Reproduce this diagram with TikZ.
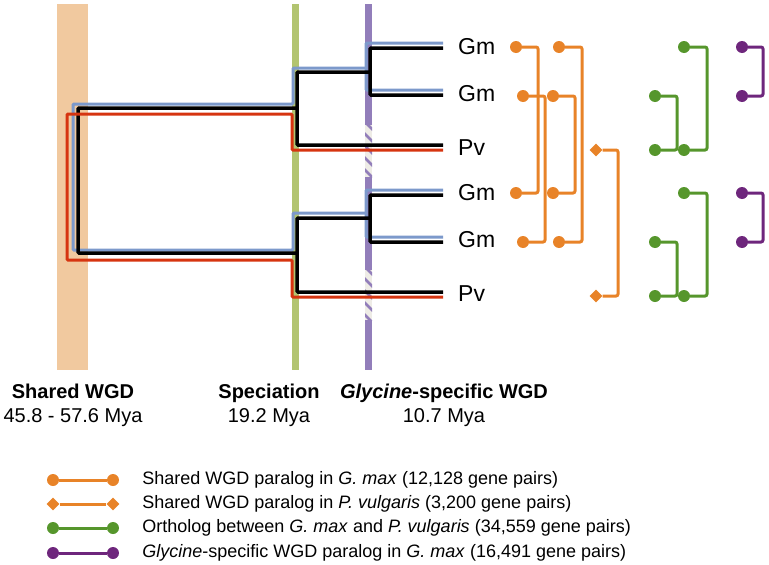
\documentclass[tikz,border=0pt]{standalone}
\usepackage{fontspec}
\setmainfont{Liberation Sans}
\usepackage{tikz}
\usetikzlibrary{shapes.geometric,calc,positioning}
\usepackage{xcolor}
\definecolor{wgdpeach}{RGB}{241,201,159}
\definecolor{specgreen}{RGB}{178,196,112}
\definecolor{glypurple}{RGB}{146,126,186}
\definecolor{hatchgray}{RGB}{238,236,230}
\definecolor{gmblue}{RGB}{124,153,203}
\definecolor{pvred}{RGB}{214,52,16}
\definecolor{pairorange}{RGB}{232,131,40}
\definecolor{orthgreen}{RGB}{86,150,44}
\definecolor{glyviolet}{RGB}{110,38,124}

\begin{document}
\begin{tikzpicture}[x=1pt,y=-1pt,
	  every node/.style={align=center,text=black,inner sep=0pt},
	  leaf/.style={anchor=west,font=\fontsize{23}{26}\selectfont},
	  stage/.style={font=\fontsize{20}{24}\selectfont},
	  legtext/.style={anchor=west,font=\fontsize{18}{20}\selectfont},
	  gmline/.style={draw=gmblue,line width=3pt,rounded corners=1pt},
	  treeline/.style={draw=black,line width=3.5pt,rounded corners=1pt},
	  pvline/.style={draw=pvred,line width=3pt,rounded corners=1pt},
	  dot/.style={circle,fill=#1,minimum size=12pt},
	  tip/.style={diamond,fill=#1,minimum size=13pt},
	  pair/.style={draw=#1,line width=3pt,rounded corners=2pt}]

	  \useasboundingbox (0,0) rectangle (769,565);

	  % Event bars
	  \fill[wgdpeach] (57,4) rectangle (88,370);
	  \fill[specgreen] (292,4) rectangle (299,370);
	  \fill[glypurple] (365,4) rectangle (372,370);
	  \foreach \ya/\yb in {125/177,270/320}{
	    \begin{scope}
	      \clip (365,\ya) rectangle (372,\yb);
	      \fill[hatchgray] (365,\ya) rectangle (372,\yb);
	      \foreach \s in {0,12,...,60}
	        \draw[glypurple,line width=2.5pt] (362,\ya+\s-6) -- (375,\ya+\s+7);
	    \end{scope}
	  }

	  % Leaves
	  \node[leaf] (gm1) at (458,47) {Gm};
	  \node[leaf] (gm2) at (458,94) {Gm};
	  \node[leaf] (pv1) at (458,148) {Pv};
	  \node[leaf] (gm3) at (458,193) {Gm};
	  \node[leaf] (gm4) at (458,240) {Gm};
	  \node[leaf] (pv2) at (458,294) {Pv};

	  % G. max lineages
	  \coordinate (t1b) at (443,43); \coordinate (t2b) at (443,90);
	  \coordinate (t3b) at (443,190); \coordinate (t4b) at (443,237);
	  \coordinate (w1b) at (366,68); \coordinate (w2b) at (366,213);
	  \coordinate (s1b) at (293,104); \coordinate (s2b) at (293,250);
	  \coordinate (rb) at (73,177);
	  \draw[gmline] (t1b) -| (w1b) |- (t2b);
	  \draw[gmline] (t3b) -| (w2b) |- (t4b);
	  \draw[gmline] (w1b) -| (s1b) -| (rb) |- (s2b) |- (w2b);

	  % all lineages
	  \coordinate (t1k) at (443,48); \coordinate (t2k) at (443,95);
	  \coordinate (t3k) at (443,195); \coordinate (t4k) at (443,242);
	  \coordinate (p1k) at (443,145); \coordinate (p2k) at (443,292);
	  \coordinate (w1k) at (370,72); \coordinate (w2k) at (370,218);
	  \coordinate (s1k) at (297,108); \coordinate (s2k) at (297,253);
	  \coordinate (rk) at (78,180);
	  \draw[treeline] (t1k) -| (w1k) |- (t2k);
	  \draw[treeline] (t3k) -| (w2k) |- (t4k);
	  \draw[treeline] (w1k) -| (s1k) |- (p1k);
	  \draw[treeline] (w2k) -| (s2k) |- (p2k);
	  \draw[treeline] (s1k) -| (rk) |- (s2k);

	  % P. vulgaris lineages
	  \coordinate (p1r) at (443,150); \coordinate (p2r) at (443,297);
	  \coordinate (s1r) at (292,114); \coordinate (s2r) at (292,260);
	  \coordinate (rr) at (67,187);
	  \draw[pvline] (p1r) -| (s1r) -| (rr) |- (s2r) |- (p2r);

	  % Shared WGD paralogs
	  \node[dot=pairorange] (oa1) at (516,47) {};
	  \node[dot=pairorange] (oa2) at (516,193) {};
	  \node[dot=pairorange] (ob1) at (559,47) {};
	  \node[dot=pairorange] (ob2) at (559,242) {};
	  \node[dot=pairorange] (oc1) at (523,96) {};
	  \node[dot=pairorange] (oc2) at (523,242) {};
	  \node[dot=pairorange] (od1) at (553,96) {};
	  \node[dot=pairorange] (od2) at (553,193) {};
	  \node[tip=pairorange] (oe1) at (596,150) {};
	  \node[tip=pairorange] (oe2) at (596,296) {};
	  \draw[pair=pairorange] (oa1) -- ++(22,0) |- (oa2);
	  \draw[pair=pairorange] (ob1) -- ++(23,0) |- (ob2);
	  \draw[pair=pairorange] (oc1) -- ++(22,0) |- (oc2);
	  \draw[pair=pairorange] (od1) -- ++(22,0) |- (od2);
	  \draw[pair=pairorange] (oe1) -- ++(22,0) |- (oe2);

	  % Orthologs
	  \node[dot=orthgreen] (ga1) at (684,47) {};
	  \node[dot=orthgreen] (ga2) at (684,150) {};
	  \node[dot=orthgreen] (gb1) at (655,96) {};
	  \node[dot=orthgreen] (gb2) at (655,150) {};
	  \node[dot=orthgreen] (gc1) at (684,193) {};
	  \node[dot=orthgreen] (gc2) at (684,296) {};
	  \node[dot=orthgreen] (gd1) at (655,242) {};
	  \node[dot=orthgreen] (gd2) at (655,296) {};
	  \draw[pair=orthgreen] (ga1) -- ++(23,0) |- (ga2);
	  \draw[pair=orthgreen] (gb1) -- ++(22,0) |- (gb2);
	  \draw[pair=orthgreen] (gc1) -- ++(23,0) |- (gc2);
	  \draw[pair=orthgreen] (gd1) -- ++(22,0) |- (gd2);

	  % Glycine-specific paralogs
	  \node[dot=glyviolet] (va1) at (742,47) {};
	  \node[dot=glyviolet] (va2) at (742,96) {};
	  \node[dot=glyviolet] (vb1) at (742,193) {};
	  \node[dot=glyviolet] (vb2) at (742,242) {};
	  \draw[pair=glyviolet] (va1) -- ++(21,0) |- (va2);
	  \draw[pair=glyviolet] (vb1) -- ++(21,0) |- (vb2);

	  % Event labels
	  \node[stage] (wgd) at (73,405) {\textbf{Shared WGD}\\45.8 - 57.6 Mya};
	  \node[stage] (spec) at (269,405) {\textbf{Speciation}\\19.2 Mya};
	  \node[stage] (gwgd) at (444,405) {\textbf{\textit{Glycine}-specific WGD}\\10.7 Mya};

	  % Legend
	  \node[dot=pairorange] (l1a) at (53,480) {};
	  \node[dot=pairorange] (l1b) at (113,480) {};
	  \node[tip=pairorange] (l2a) at (53,504) {};
	  \node[tip=pairorange] (l2b) at (113,504) {};
	  \node[dot=orthgreen] (l3a) at (53,528) {};
	  \node[dot=orthgreen] (l3b) at (113,528) {};
	  \node[dot=glyviolet] (l4a) at (53,553) {};
	  \node[dot=glyviolet] (l4b) at (113,553) {};
	  \draw[pair=pairorange] (l1a) -- (l1b);
	  \draw[pair=pairorange] (l2a) -- (l2b);
	  \draw[pair=orthgreen] (l3a) -- (l3b);
	  \draw[pair=glyviolet] (l4a) -- (l4b);
	  \node[legtext,right=23pt of l1b] (l1t) {Shared WGD paralog in \textit{G. max} (12,128 gene pairs)};
	  \node[legtext,right=22.5pt of l2b] (l2t) {Shared WGD paralog in \textit{P. vulgaris} (3,200 gene pairs)};
	  \node[legtext,right=23pt of l3b] (l3t) {Ortholog between \textit{G. max} and \textit{P. vulgaris} (34,559 gene pairs)};
	  \node[legtext,right=23pt of l4b] (l4t) {\textit{Glycine}-specific WGD paralog in \textit{G. max} (16,491 gene pairs)};
\end{tikzpicture}
\end{document}
